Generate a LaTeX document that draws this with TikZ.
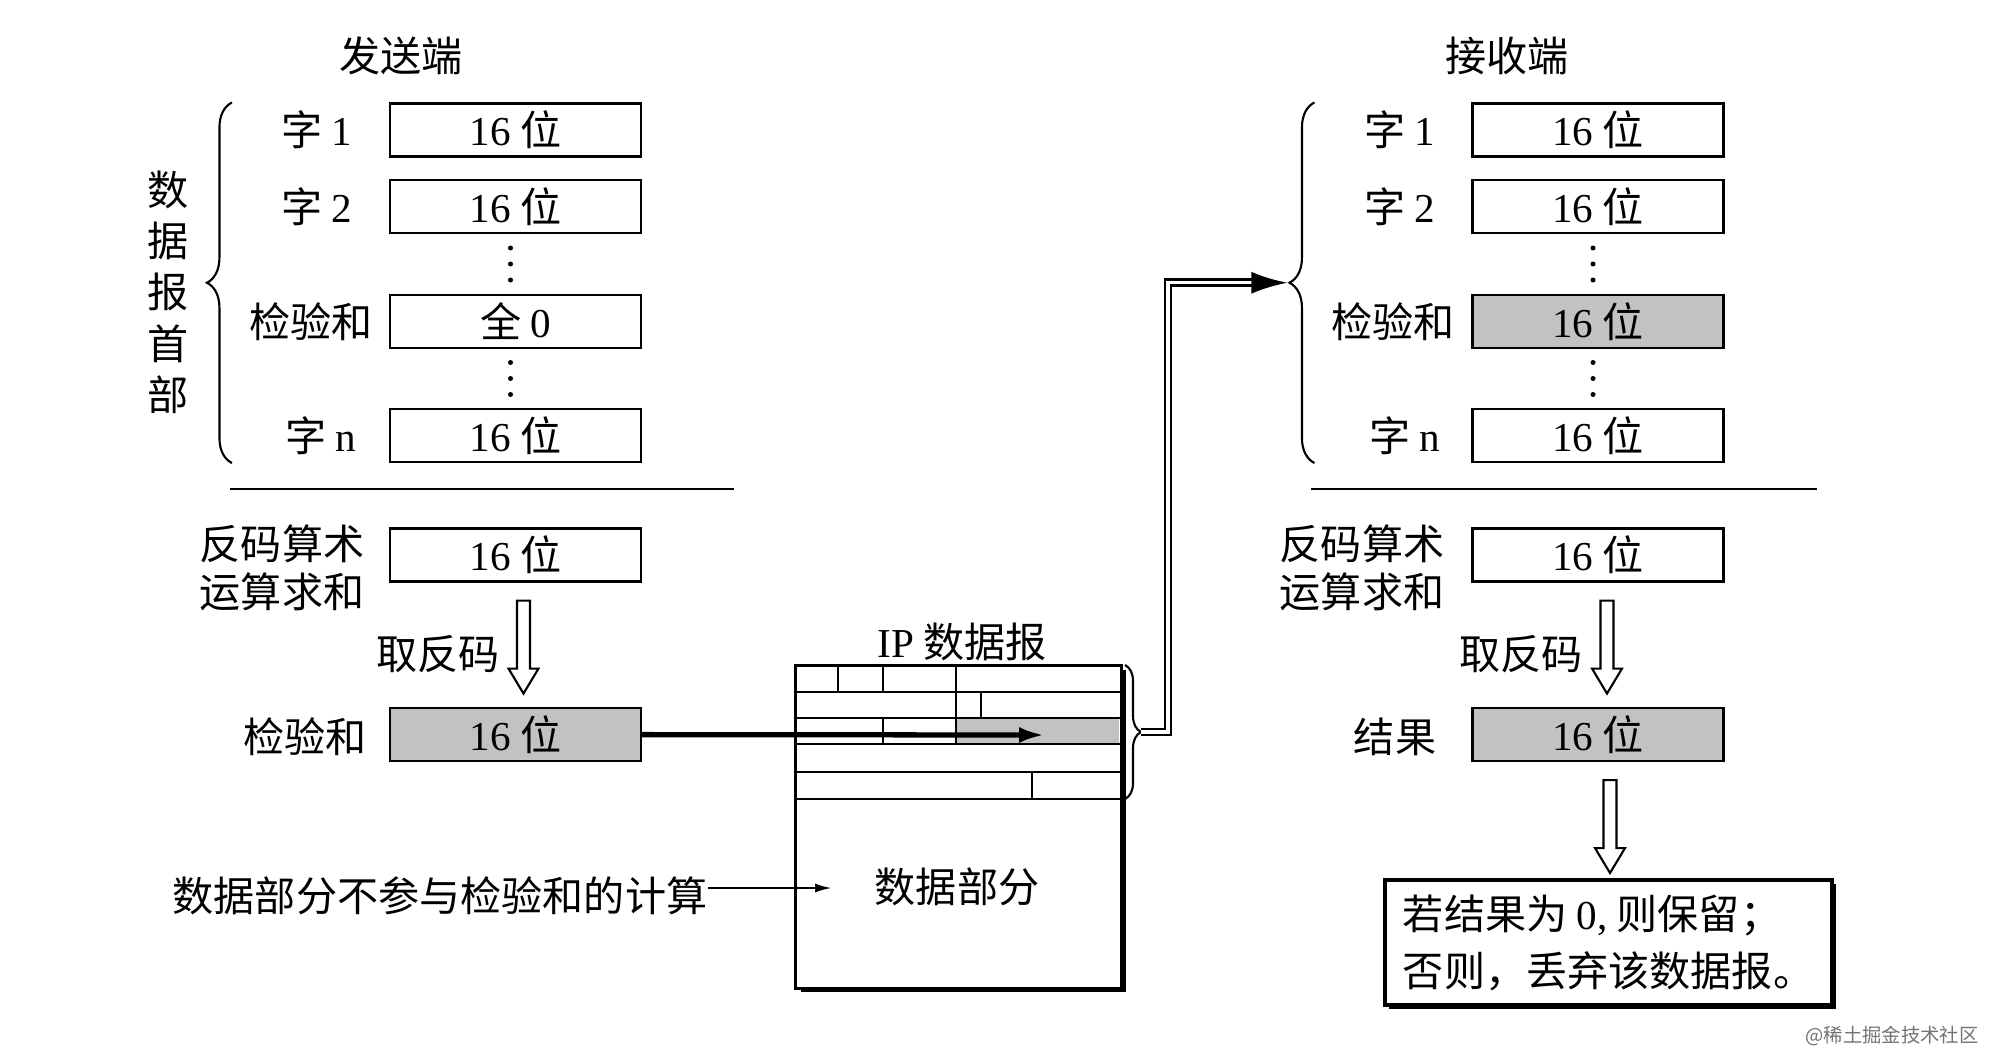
\documentclass[tikz,border=0pt]{standalone}
\usepackage{fontspec}
\setmainfont{Liberation Serif}
\newfontfamily\cjk{Noto Sans CJK SC}
\usetikzlibrary{positioning,calc,arrows.meta,decorations.pathreplacing,shadows}
\newcommand\lbfont{\cjk\fontsize{11.7}{14}\selectfont}
\newcommand\sixteen{{\rmfamily 16}\ 位}

\begin{document}
\begin{tikzpicture}[
  field/.style={draw, line width=0.6pt, minimum width=2.51cm, minimum height=0.53cm, inner sep=0pt, font=\lbfont},
  shaded/.style={field, fill=black!24},
  lbl/.style={font=\lbfont, inner sep=0pt},
  twoline/.style={lbl, align=center, font=\cjk\fontsize{11.7}{13.7}\selectfont},
  rule/.style={line width=0.6pt},
  hbrace/.style={decorate, decoration={brace, amplitude=0.25cm}, line width=0.6pt},
  thickarrow/.style={line width=1.5pt, -{Latex[length=0.26cm,width=0.16cm]}},
  dline/.style={double, line width=0.8pt, double distance=0.9pt, -{Latex[length=0.36cm,width=0.22cm]}},
  thinarrow/.style={line width=0.7pt, -{Latex[length=0.17cm,width=0.09cm]}},
  hollow/.pic={\draw[line width=0.6pt, fill=white] (-0.065,0) -- (-0.065,-0.68) -- (-0.15,-0.68) -- (0,-0.93) -- (0.15,-0.68) -- (0.065,-0.68) -- (0.065,0) -- cycle;}]
\fill[white] (0,0) rectangle (19.92,-10.54);
\useasboundingbox (0,0) rectangle (19.92,-10.54);

% sender
\node[lbl] (shead) at (4.01,-0.56) {发送端};
\node[field] (s1) at (5.155,-1.30) {\sixteen};
\node[field] (s2) at (5.155,-2.065) {\sixteen};
\node[field] (sck) at (5.155,-3.215) {全 {\rmfamily 0}};
\node[field] (sn) at (5.155,-4.355) {\sixteen};
\coordinate (sd1) at ($(s2.south)!0.5!(sck.north)+(-0.05,0)$);
\coordinate (sd2) at ($(sck.south)!0.5!(sn.north)+(-0.05,0)$);
\foreach \d in {-0.16,0,0.16} {
  \fill ($(sd1)+(0,\d)$) circle (0.025cm);
  \fill ($(sd2)+(0,\d)$) circle (0.025cm);
}
\node[lbl] (sl1) at (3.17,-1.30) {字 {\rmfamily 1}};
\node[lbl] (sl2) at (3.17,-2.065) {字 {\rmfamily 2}};
\node[lbl] (slck) at (3.11,-3.215) {检验和};
\node[lbl] (sln) at (3.21,-4.355) {字 {\rmfamily n}};
\node[lbl, align=center, font=\cjk\fontsize{11.7}{14.6}\selectfont] (shdr) at (1.68,-2.92) {数\\据\\报\\首\\部};
\draw[hbrace] ($(sn.south west)+(-1.57,0)$) -- ($(s1.north west)+(-1.57,0)$);
\draw[rule] (2.30,-4.89) -- (7.34,-4.89);

\node[field] (ssum) at (5.155,-5.55) {\sixteen};
\node[twoline] (ssuml) at (2.82,-5.68) {反码算术\\运算求和};
\pic at ($(ssum.south)+(0.08,-0.18)$) {hollow};
\node[lbl] (sinv) at (4.38,-6.54) {取反码};
\node[shaded] (sres) at (5.155,-7.345) {\sixteen};
\node[lbl] (sresl) at (3.05,-7.37) {检验和};

% IP datagram
\node[lbl] (iplbl) at (9.62,-6.42) {{\rmfamily IP} 数据报};
\node[draw, fill=white, line width=0.6pt, minimum width=3.25cm, minimum height=3.22cm, inner sep=0pt, anchor=north west,
  drop shadow={shadow xshift=0.05cm, shadow yshift=-0.04cm, fill=black, opacity=1}] (ip) at (7.95,-6.65) {};
\fill[black!24] (9.56,-7.183) rectangle (11.19,-7.44);
\foreach \y in {6.917,7.183,7.44,7.717,7.99}
  \draw[rule] (7.95,-\y) -- (11.20,-\y);
\foreach \x/\ya/\yb in {8.38/6.65/6.917, 8.83/6.65/6.917, 9.56/6.65/6.917,
                        9.56/6.917/7.183, 9.81/6.917/7.183,
                        8.83/7.183/7.44, 9.56/7.183/7.44,
                        10.32/7.717/7.99}
  \draw[rule] (\x,-\ya) -- (\x,-\yb);
\draw[line width=0.6pt] (ip.north west) rectangle (ip.south east);
\node[lbl] (ipdata) at (9.57,-8.87) {数据部分};
\draw[hbrace, decoration={amplitude=0.16cm}] (11.25,-6.65) -- (11.25,-7.99);
\coordinate (iptip) at (11.41,-7.32);
\coordinate (ckfield) at (10.45,-7.35);
\draw[thickarrow] (sres) -- (ckfield);
\node[lbl] (note) at (4.40,-8.96) {数据部分不参与检验和的计算};
\coordinate (datain) at (8.32,-8.88);
\draw[thinarrow] (note.east |- datain) -- (datain);

% receiver
\node[lbl] (rhead) at (15.07,-0.56) {接收端};
\node[field] (r1) at (15.98,-1.30) {\sixteen};
\node[field] (r2) at (15.98,-2.065) {\sixteen};
\node[shaded] (rck) at (15.98,-3.215) {\sixteen};
\node[field] (rn) at (15.98,-4.355) {\sixteen};
\coordinate (rd1) at ($(r2.south)!0.5!(rck.north)+(-0.05,0)$);
\coordinate (rd2) at ($(rck.south)!0.5!(rn.north)+(-0.05,0)$);
\foreach \d in {-0.16,0,0.16} {
  \fill ($(rd1)+(0,\d)$) circle (0.025cm);
  \fill ($(rd2)+(0,\d)$) circle (0.025cm);
}
\node[lbl] (rl1) at (14.00,-1.30) {字 {\rmfamily 1}};
\node[lbl] (rl2) at (14.00,-2.065) {字 {\rmfamily 2}};
\node[lbl] (rlck) at (13.93,-3.215) {检验和};
\node[lbl] (rln) at (14.05,-4.355) {字 {\rmfamily n}};
\draw[hbrace] ($(rn.south west)+(-1.57,0)$) -- ($(r1.north west)+(-1.57,0)$);
\coordinate (rtip) at ($(r1.north west)!0.5!(rn.south west)+(-1.84,0)$);
\draw[dline] (iptip) -- ++(0.27,0) |- (rtip);
\draw[rule] (13.11,-4.89) -- (18.17,-4.89);

\node[field] (rsum) at (15.98,-5.55) {\sixteen};
\node[twoline] (rsuml) at (13.62,-5.68) {反码算术\\运算求和};
\pic at ($(rsum.south)+(0.09,-0.18)$) {hollow};
\node[lbl] (rinv) at (15.21,-6.54) {取反码};
\node[shaded] (rres) at (15.98,-7.345) {\sixteen};
\node[lbl] (rresl) at (13.95,-7.37) {结果};
\pic at ($(rres.south)+(0.12,-0.18)$) {hollow};
\node[draw, fill=white, line width=1.2pt, minimum width=4.47cm, minimum height=1.25cm, align=left,
  font=\cjk\fontsize{11.7}{16.2}\selectfont,
  drop shadow={shadow xshift=0.04cm, shadow yshift=-0.04cm, fill=black, opacity=1}] (res) at (16.085,-9.425)
  {若结果为 {\rmfamily 0,} 则保留；\\否则，丢弃该数据报。};

\node[font=\cjk\fontsize{5.5}{7}\selectfont, text=black!55] (wm) at (18.92,-10.36) {@稀土掘金技术社区};
\end{tikzpicture}
\end{document}
